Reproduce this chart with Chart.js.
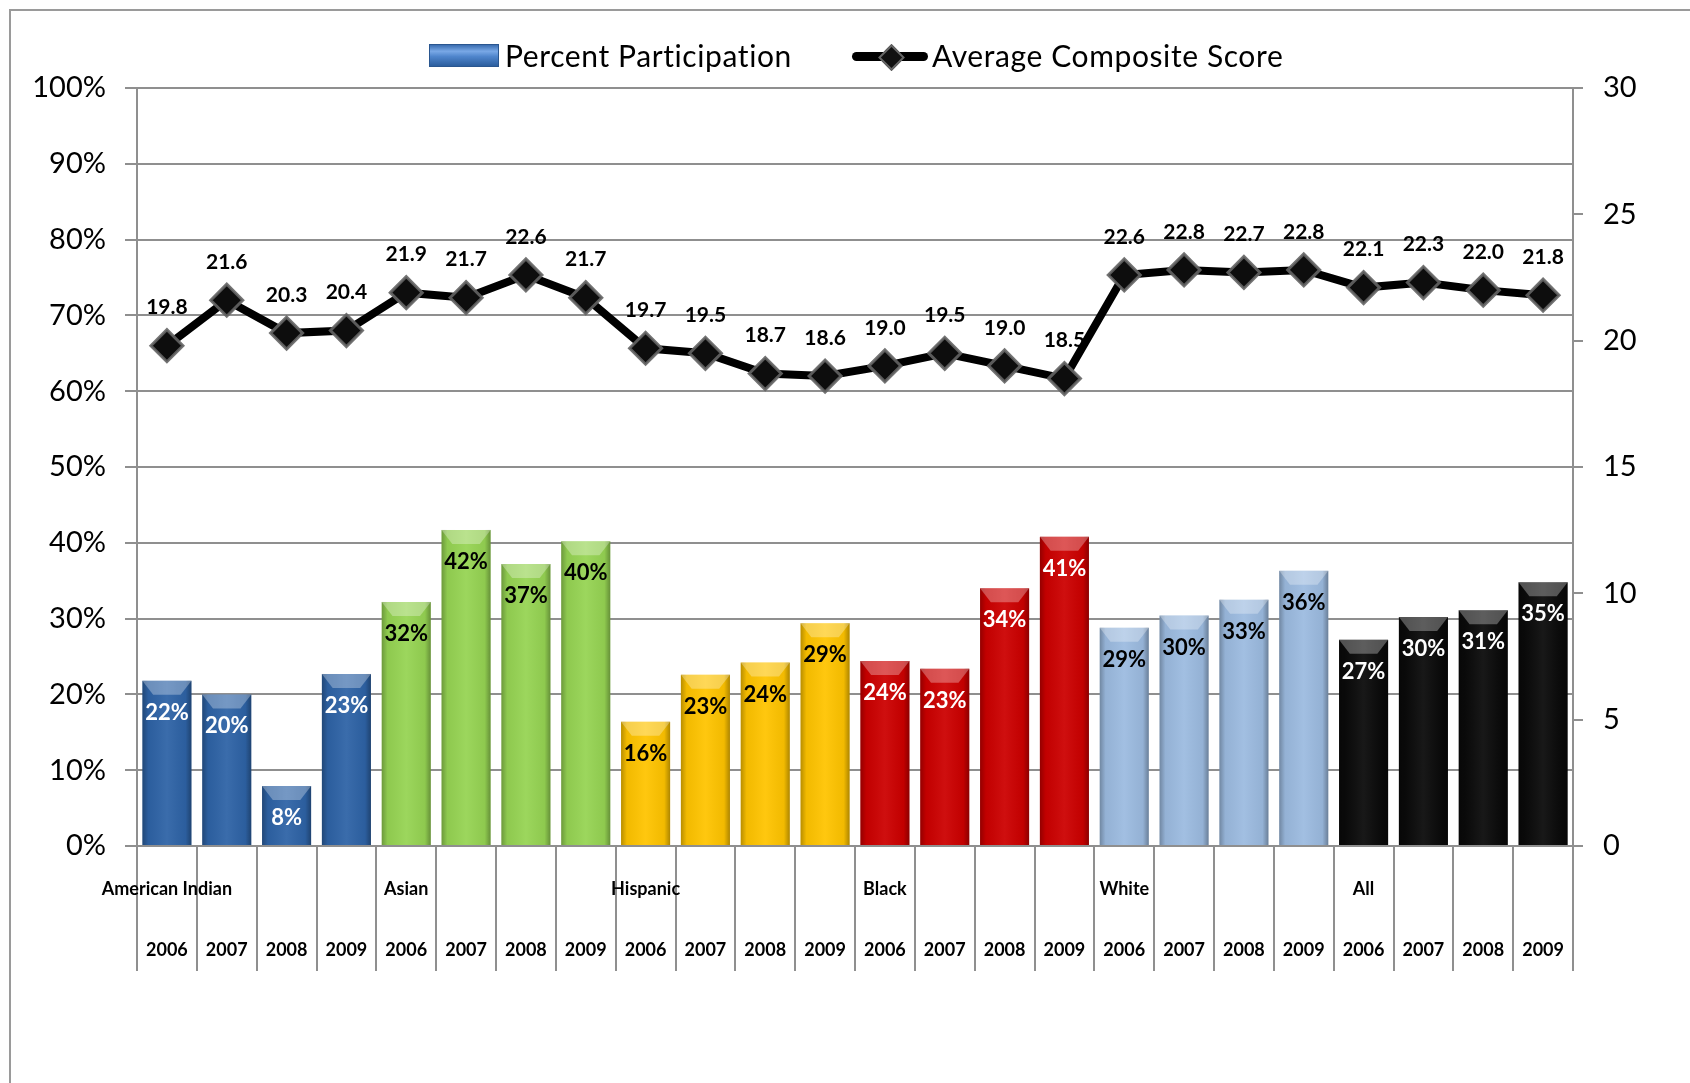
<!DOCTYPE html>
<html>
<head>
<meta charset="utf-8">
<script src="https://cdn.jsdelivr.net/npm/chart.js@4/dist/chart.umd.min.js"></script>
<style>
  html, body { margin: 0; padding: 0; background: #fff; overflow: hidden; }
  #wrap { position: relative; width: 1690px; height: 1083px; font-family: Lato, sans-serif; }
  #frame { position: absolute; left: 9px; top: 9px; width: 1700px; height: 1100px;
           border-top: 2px solid #9a9a9a; border-left: 2px solid #9a9a9a; }
  canvas { position: absolute; left: 0; top: 0; }
  .lg-text { position: absolute; top: 40px; font-size: 30px; line-height: 30px; letter-spacing: 0.6px; color: #000; white-space: nowrap; }
  #lg-box { position: absolute; left: 429px; top: 44px; width: 68px; height: 21px;
            border: 1px solid #2a568f;
            background: linear-gradient(to bottom, #3a6db0 0%, #79a8e6 30%, #4f85cc 55%, #2c5e9e 100%); }
  #lg-line { position: absolute; left: 852px; top: 52px; width: 76px; height: 9px; border-radius: 5px; background: #000; }
  #lg-dot { position: absolute; left: 882px; top: 48px; width: 15px; height: 15px; transform: rotate(45deg);
            background: #111; border: 2px solid #666; }
</style>
</head>
<body>
<div id="wrap">
  <div id="frame"></div>
  <canvas id="chart" width="1690" height="1083"></canvas>
  <div id="lg-box"></div>
  <div class="lg-text" style="left:505px">Percent Participation</div>
  <div id="lg-line"></div>
  <div id="lg-dot"></div>
  <div class="lg-text" style="left:932px">Average Composite Score</div>
</div>
<script>
// ---- data ----
const groups = ['American Indian', 'Asian', 'Hispanic', 'Black', 'White', 'All'];
const years = ['2006', '2007', '2008', '2009'];
const participation = [21.8, 20.0, 7.9, 22.7, 32.2, 41.7, 37.2, 40.2, 16.4, 22.6, 24.2, 29.4,
                       24.4, 23.4, 34.0, 40.8, 28.8, 30.4, 32.5, 36.3, 27.2, 30.2, 31.1, 34.8];
const composite = [19.8, 21.6, 20.3, 20.4, 21.9, 21.7, 22.6, 21.7, 19.7, 19.5, 18.7, 18.6,
                   19.0, 19.5, 19.0, 18.5, 22.6, 22.8, 22.7, 22.8, 22.1, 22.3, 22.0, 21.8];

// ---- styles ----
const groupColors = ['#2e63a6', '#96d453', '#ffc400', '#cc0000', '#9cbbe0', '#0a0a0a'];
const groupLabelColors = ['#fff', '#000', '#000', '#fff', '#000', '#fff'];
const GRAY = '#8f8f8f';

const labels = [];
groups.forEach(g => years.forEach((y, j) => labels.push([j === 0 ? g : '', y])));
const groupOf = i => Math.floor(i / years.length);

Chart.defaults.font.family = 'Lato, sans-serif';
Chart.defaults.color = '#000';

// bevel/shading over the bars, drawn right after the bar dataset
const barShade = {
  id: 'barShade',
  afterDatasetDraw(chart, args) {
    if (args.index !== 0) return;
    const ctx = chart.ctx;
    ctx.save();
    args.meta.data.forEach(el => {
      const { x, y, base, width } = el.getProps(['x', 'y', 'base', 'width'], true);
      const l = x - width / 2, h = base - y;
      const g = ctx.createLinearGradient(l, 0, l + width, 0);
      g.addColorStop(0, 'rgba(0,0,0,0.28)');
      g.addColorStop(0.12, 'rgba(0,0,0,0.05)');
      g.addColorStop(0.5, 'rgba(255,255,255,0.06)');
      g.addColorStop(0.88, 'rgba(0,0,0,0.05)');
      g.addColorStop(1, 'rgba(0,0,0,0.32)');
      ctx.fillStyle = g;
      ctx.fillRect(l, y, width, h);
      ctx.beginPath();
      ctx.moveTo(l, y);
      ctx.lineTo(l + width, y);
      ctx.lineTo(l + width * 0.78, y + Math.min(14, h));
      ctx.lineTo(l + width * 0.22, y + Math.min(14, h));
      ctx.closePath();
      ctx.fillStyle = 'rgba(255,255,255,0.3)';
      ctx.fill();
    });
    ctx.restore();
  }
};

// value labels for both series
const valueLabels = {
  id: 'valueLabels',
  afterDatasetsDraw(chart) {
    const ctx = chart.ctx;
    ctx.save();
    ctx.textAlign = 'center';
    ctx.textBaseline = 'middle';
    ctx.font = 'bold 22px Lato, sans-serif';
    chart.getDatasetMeta(0).data.forEach((el, i) => {
      ctx.fillStyle = groupLabelColors[groupOf(i)];
      ctx.fillText(Math.round(participation[i]) + '%', el.x, el.y + 32);
    });
    ctx.fillStyle = '#000';
    ctx.font = 'bold 21px Lato, sans-serif';
    chart.getDatasetMeta(1).data.forEach((el, i) => {
      ctx.fillText(composite[i].toFixed(1), el.x, el.y - 38);
    });
    ctx.restore();
  }
};

new Chart(document.getElementById('chart'), {
  data: {
    labels,
    datasets: [
      {
        type: 'bar',
        label: 'Percent Participation',
        data: participation,
        yAxisID: 'y',
        order: 2,
        backgroundColor: participation.map((_, i) => groupColors[groupOf(i)]),
        borderWidth: 0,
        categoryPercentage: 1,
        barPercentage: 0.82
      },
      {
        type: 'line',
        label: 'Average Composite Score',
        data: composite,
        yAxisID: 'y1',
        order: 1,
        borderColor: '#000',
        borderWidth: 8,
        tension: 0,
        pointStyle: 'rectRot',
        pointRadius: 16,
        pointBackgroundColor: '#0d0d0d',
        pointBorderColor: 'rgba(100,100,100,0.9)',
        pointBorderWidth: 3
      }
    ]
  },
  options: {
    responsive: false,
    devicePixelRatio: 1,
    animation: false,
    layout: { padding: { top: 88, left: 0, right: 0, bottom: 0 } },
    plugins: { legend: { display: false }, tooltip: { enabled: false } },
    scales: {
      x: {
        type: 'category',
        afterFit: s => { s.height = 237; },
        grid: { offset: true, drawOnChartArea: false, drawTicks: true, tickLength: 125, color: GRAY, lineWidth: 2 },
        border: { display: true, color: GRAY, width: 2 },
        ticks: {
          autoSkip: false, maxRotation: 0, minRotation: 0, padding: -113,
          color: '#000', font: { size: 18, weight: 'bold', lineHeight: 61.7 / 18 }
        }
      },
      y: {
        position: 'left',
        min: 0, max: 100,
        afterFit: s => { s.width = 137; },
        grid: { color: GRAY, lineWidth: 2, tickLength: 12 },
        border: { display: true, color: GRAY, width: 2 },
        ticks: { stepSize: 10, padding: 19, font: { size: 29 }, callback: v => v + '%' }
      },
      y1: {
        position: 'right',
        min: 0, max: 30,
        afterFit: s => { s.width = 117; },
        grid: { drawOnChartArea: false, color: GRAY, lineWidth: 2, tickLength: 10 },
        border: { display: true, color: GRAY, width: 2 },
        ticks: { stepSize: 5, padding: 20, font: { size: 29 } }
      }
    }
  },
  plugins: [barShade, valueLabels]
});
</script>
</body>
</html>
